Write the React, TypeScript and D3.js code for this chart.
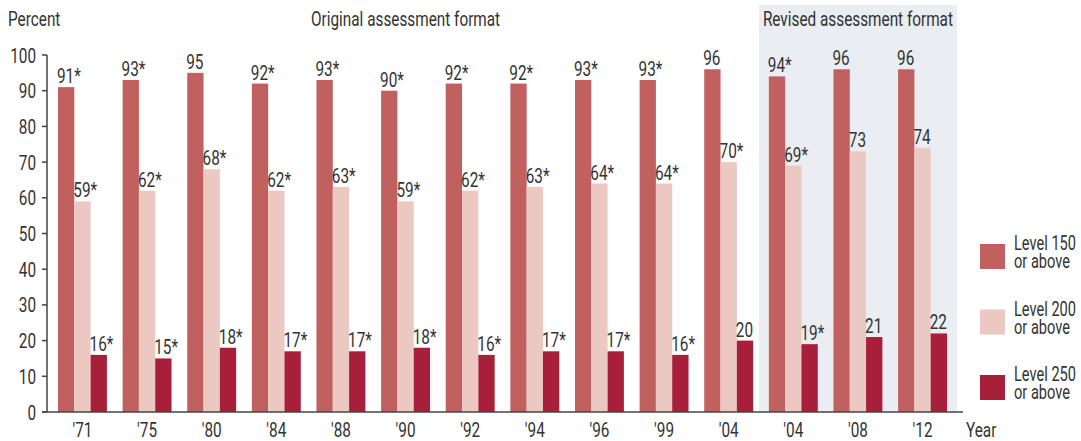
import React from "react";
import * as d3 from "d3";

const years = ["'71", "'75", "'80", "'84", "'88", "'90", "'92", "'94", "'96", "'99", "'04", "'04 ", "'08", "'12"];
const level150 = [91, 93, 95, 92, 93, 90, 92, 92, 93, 93, 96, 94, 96, 96];
const level200 = [59, 62, 68, 62, 63, 59, 62, 63, 64, 64, 70, 69, 73, 74];
const level250 = [16, 15, 18, 17, 17, 18, 16, 17, 17, 16, 20, 19, 21, 22];
const sig150 = [true, true, false, true, true, true, true, true, true, true, false, true, false, false];
const sig200 = [true, true, true, true, true, true, true, true, true, true, true, true, false, false];
const sig250 = [true, true, true, true, true, true, true, true, true, true, false, true, false, false];
const yTicks = [0, 10, 20, 30, 40, 50, 60, 70, 80, 90, 100];
const seriesNames = [["Level 150", "or above"], ["Level 200", "or above"], ["Level 250", "or above"]];
const colors = ["#c0605f", "#ecc8c2", "#a81f3b"];
const revisedStart = 11;

const W = 1081;
const H = 441;
const FONT = "Roboto, 'DejaVu Sans', sans-serif";
const TEXT = "#333";
const SX = 0.73; // squeeze to mimic the condensed face

// text squeezed horizontally around its anchor point
const T = ({ x, y, size = 21, anchor = "start", children }) => (
  <text
    transform={`translate(${x},${y}) scale(${SX},1)`}
    fontSize={size}
    fill={TEXT}
    textAnchor={anchor}
  >
    {children}
  </text>
);

const App = () => {
  const x0 = 47;
  const x = d3
    .scaleBand()
    .domain(years)
    .range([x0, 958])
    .paddingInner(0.243)
    .paddingOuter(0.17);
  const x1 = d3.scaleBand().domain(["a", "b", "c"]).range([0, x.bandwidth()]);
  const y = d3.scaleLinear().domain([0, 100]).range([412, 55]);

  const series = [
    { key: "a", values: level150, sig: sig150, color: colors[0] },
    { key: "b", values: level200, sig: sig200, color: colors[1] },
    { key: "c", values: level250, sig: sig250, color: colors[2] },
  ];

  const shadeX0 = x(years[revisedStart]) - 10;
  const shadeX1 = x(years[years.length - 1]) + x.bandwidth() + 10;

  return (
    <svg width={W} height={H} style={{ position: "absolute", left: 0, top: 0 }} fontFamily={FONT}>
      {/* revised format background */}
      <rect x={shadeX0} y={5} width={shadeX1 - shadeX0} height={y(0) - 5} fill="#eaedf1" />

      <T x={8} y={26}>Percent</T>
      <T x={(x(years[0]) + x(years[revisedStart - 1]) + x.bandwidth()) / 2} y={26} anchor="middle">
        Original assessment format
      </T>
      <T x={(shadeX0 + shadeX1) / 2} y={26} anchor="middle">
        Revised assessment format
      </T>

      {/* bars */}
      {years.map((yr, i) => (
        <g key={yr} transform={`translate(${x(yr)},0)`}>
          {series.map(s => (
            <g key={s.key}>
              <rect
                x={x1(s.key)}
                y={y(s.values[i])}
                width={x1.bandwidth()}
                height={y(0) - y(s.values[i])}
                fill={s.color}
              />
              <T x={x1(s.key) - 1} y={y(s.values[i]) - 4}>
                {s.values[i] + (s.sig[i] ? "*" : "")}
              </T>
            </g>
          ))}
        </g>
      ))}

      {/* axes */}
      <line x1={x0} x2={x0} y1={y(100)} y2={y(0)} stroke="#444" strokeWidth={1.5} />
      <line x1={x0 - 5} x2={963} y1={y(0)} y2={y(0)} stroke="#444" strokeWidth={1.5} />
      {yTicks.map(t => (
        <g key={t}>
          <line x1={x0 - 5} x2={x0} y1={y(t)} y2={y(t)} stroke="#444" strokeWidth={1.5} />
          <T x={36} y={y(t) + 7.5} anchor="end">{t}</T>
        </g>
      ))}

      {years.map(yr => (
        <T key={yr} x={x(yr) + x.bandwidth() / 2} y={437} anchor="middle">
          {yr.trim()}
        </T>
      ))}
      <T x={966} y={437}>Year</T>

      {/* legend */}
      {seriesNames.map((n, i) => (
        <g key={n[0]} transform={`translate(980,${244 + i * 65.5})`}>
          <rect width={25} height={25} fill={colors[i]} />
          <T x={34} y={6} size={20}>{n[0]}</T>
          <T x={34} y={24} size={20}>{n[1]}</T>
        </g>
      ))}
    </svg>
  );
};

export default App;
